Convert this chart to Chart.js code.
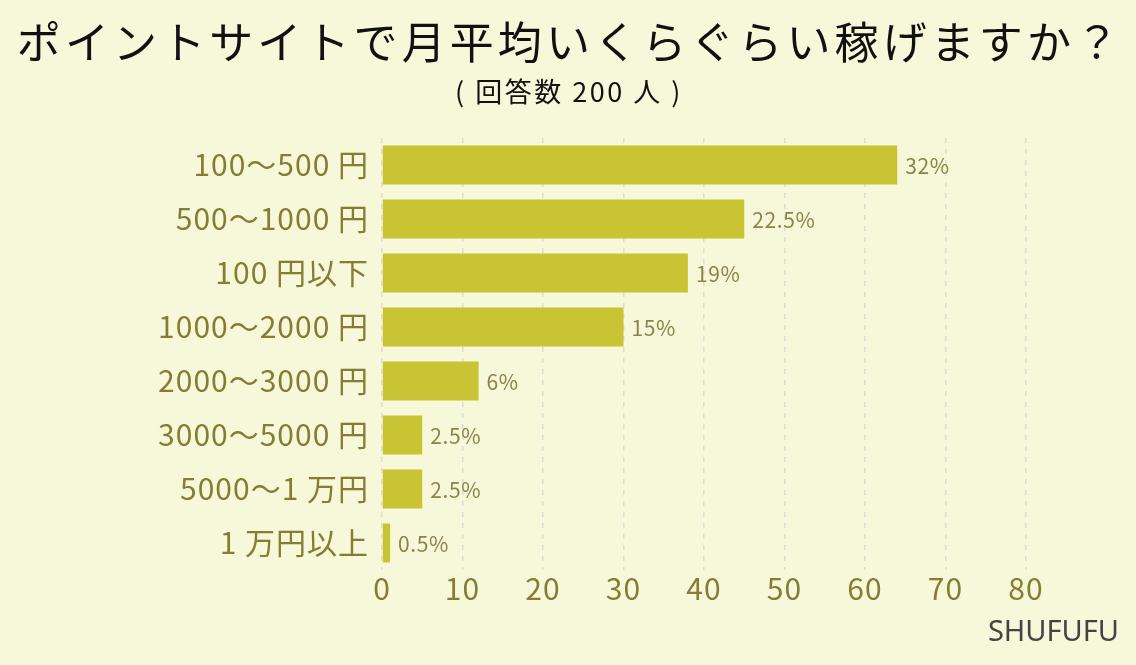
<!DOCTYPE html>
<html lang="ja">
<head>
<meta charset="utf-8">
<script src="https://cdn.jsdelivr.net/npm/chart.js@4.4.1/dist/chart.umd.min.js"></script>
<style>
  html, body { margin: 0; padding: 0; background: #f7f7d9; }
  #wrap { width: 1136px; height: 665px; position: relative; }
</style>
</head>
<body>
<div id="wrap"><canvas id="myChart"></canvas></div>
<script>
// 回答データ（200人）
const TITLE = 'ポイントサイトで月平均いくらぐらい稼げますか？';
const SUBTITLE = '( 回答数 200 人 )';
const CREDIT = 'SHUFUFU';
const TOTAL = 200;
const categories = [
  '100～500 円',
  '500～1000 円',
  '100 円以下',
  '1000～2000 円',
  '2000～3000 円',
  '3000～5000 円',
  '5000～1 万円',
  '1 万円以上'
];
const counts = [64, 45, 38, 30, 12, 5, 5, 1];
const xTicks = [0, 10, 20, 30, 40, 50, 60, 70, 80];

const OLIVE = '#857e32';
const JP = "'Noto Sans CJK JP', 'Noto Sans', sans-serif";

// 目盛りの文字間隔
const spacingPlugin = {
  id: 'spacing',
  beforeDraw(chart) { chart.ctx.letterSpacing = '1px'; },
  afterDatasetsDraw(chart) { chart.ctx.letterSpacing = '0px'; }
};

// タイトル・ラベル描画
const textPlugin = {
  id: 'texts',
  afterDraw(chart) {
    const ctx = chart.ctx;
    const w = chart.width;
    ctx.save();
    ctx.fillStyle = '#111';
    ctx.textAlign = 'center';
    ctx.textBaseline = 'middle';
    ctx.font = '44px ' + JP;
    ctx.letterSpacing = '4.1px';
    ctx.fillText(TITLE, w / 2 + 2, 42);
    ctx.font = '27px ' + JP;
    ctx.letterSpacing = '2.5px';
    ctx.fillText(SUBTITLE, w / 2 + 1, 92);

    // 棒の右にパーセント
    const meta = chart.getDatasetMeta(0);
    ctx.font = '21px ' + JP;
    ctx.letterSpacing = '0.6px';
    ctx.fillStyle = '#8a8547';
    ctx.textAlign = 'left';
    meta.data.forEach((bar, i) => {
      const pct = Math.round(counts[i] / TOTAL * 1000) / 10;
      ctx.fillText(pct + '%', bar.x + 8, bar.y + 1);
    });

    ctx.letterSpacing = '0px';
    ctx.font = "29px 'Noto Sans', sans-serif";
    ctx.fillStyle = '#444';
    ctx.textAlign = 'right';
    ctx.fillText(CREDIT, 1119, 633);
    ctx.restore();
  }
};

const ctx = document.getElementById('myChart').getContext('2d');
const myChart = new Chart(ctx, {
  type: 'bar',
  data: {
    labels: categories,
    datasets: [{
      data: counts,
      backgroundColor: '#c9c433',
      borderWidth: 0,
      categoryPercentage: 0.8,
      barPercentage: 0.9
    }]
  },
  options: {
    indexAxis: 'y',
    responsive: true,
    maintainAspectRatio: false,
    animation: false,
    layout: { padding: { top: 138, right: 110, bottom: 0, left: 0 } },
    plugins: {
      legend: { display: false },
      title: { display: false },
      tooltip: { enabled: false }
    },
    scales: {
      x: {
        min: 0,
        max: 80,
        afterBuildTicks(scale) {
          scale.ticks = xTicks.map(v => ({ value: v }));
        },
        afterFit(scale) { scale.height = 95; },
        grid: {
          color: '#dcdcd2',
          lineWidth: 1.5,
          drawTicks: false
        },
        border: { display: false, dash: [5, 6] },
        ticks: {
          color: OLIVE,
          padding: 1,
          font: { family: JP, size: 30 }
        }
      },
      y: {
        afterFit(scale) { scale.width = 382; },
        border: { display: false },
        grid: { display: false },
        ticks: {
          color: OLIVE,
          padding: 5,
          font: { family: JP, size: 30 }
        }
      }
    }
  },
  plugins: [spacingPlugin, textPlugin]
});
</script>
</body>
</html>
